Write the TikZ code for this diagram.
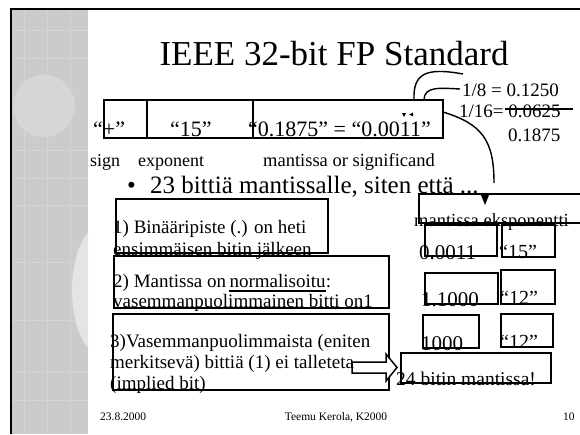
\documentclass[tikz,border=0pt]{standalone}
\usepackage{fontspec}
\setmainfont{Liberation Serif}
\definecolor{panel}{RGB}{203,203,203}
\definecolor{panelline}{RGB}{213,213,213}
\definecolor{circ}{RGB}{214,214,214}
\definecolor{ell}{RGB}{228,228,228}
\tikzset{
  fs/.style={inner sep=0pt, anchor=base west, font=\fontsize{#1}{#1}\selectfont},
  bx/.style={draw, line width=1.5pt, inner sep=0pt, anchor=north west},
  curve/.style={line width=1.4pt},
  tip/.style={fill=black, draw=none},
}
\begin{document}
\begin{tikzpicture}[x=1pt,y=-1pt]
\useasboundingbox (0,0) rectangle (580,434);
\clip (0,0) rectangle (580,434);
% left decorative panel
\fill[panel] (11,9) rectangle (88,434);
\foreach \yy in {30,58,150,178,205,262,320,372,400}{\draw[panelline,line width=0.8pt] (11,\yy) -- (88,\yy);}
\foreach \xx in {24,47,70}{\draw[panelline,line width=0.8pt] (\xx,9) -- (\xx,434);}
\fill[circ] (44,106) circle (31);
\begin{scope}
  \clip (11,9) rectangle (88,434);
  \fill[ell] (102,290) ellipse [x radius=30, y radius=65];
\end{scope}
\draw[line width=2pt] (11,434) -- (11,9);
\draw[line width=1.5pt] (10,9) -- (580,9);

% title
\node[fs=35, anchor=base] (title) at (334,65) {IEEE 32-bit FP Standard};

% main bit-field boxes
\node[bx, minimum width=43pt, minimum height=38pt] (sgn) at (103,99) {};
\node[bx, minimum width=106pt, minimum height=38pt] (exf) at (146,99) {};
\node[bx, minimum width=190pt, minimum height=38pt] (manf) at (252,99) {};
\node[fs=22] (tplus) at (93,136) {“+”};
\node[fs=22] (t15) at (170,136) {“15”};
\node[fs=22] (tman) at (248,136) {“0.1875” = “0.0011”};

% field labels
\node[fs=18] (lsign) at (90,166) {sign};
\node[fs=18] (lexp) at (138,166) {exponent};
\node[fs=18.5] (lman) at (263,166) {mantissa or significand};

% fractions
\node[fs=19] (f1) at (462,96) {1/8 = 0.1250};
\node[fs=19] (f2) at (459,117) {1/16= 0.0625};
\node[fs=19] (f3) at (508,141) {0.1875};
\coordinate (sumL) at (505,109);
\coordinate (sumR) at (573,109);
\draw[line width=1.4pt] (sumL) -- (sumR);

% curves
\coordinate (c1s) at (463,74);
\coordinate (c1e) at (414,100);
\coordinate (c2s) at (460,89);
\coordinate (c2e) at (424,100);
\coordinate (c3s) at (443,112);
\coordinate (c3e) at (494,183);
\draw[curve] (c1s) .. controls (425,67) and (413,74) .. (c1e);
\draw[curve] (c2s) .. controls (440,88) and (424,86) .. (c2e);
\draw[curve] (c3s) .. controls (482,124) and (494,140) .. (c3e);
\fill[tip] (402,113) -- (406,113) -- (404,117) -- cycle;
\fill[tip] (413,112.5) -- (413,116.5) -- (409,114.5) -- cycle;
\fill[tip] (481,195) -- (489,195) -- (485,205) -- cycle;

% bullet
\node[fs=25] (bul) at (127,193) {•};
\node[fs=25] (btxt) at (150,193) {23 bittiä mantissalle, siten että ...};

% left boxes
\node[bx, minimum width=212pt, minimum height=54pt] (b1) at (115,198) {};
\node[bx, minimum width=275pt, minimum height=52pt] (b2) at (113,255) {};
\node[bx, minimum width=276pt, minimum height=76pt] (b3) at (112,313) {};

% block arrow
\draw[line width=1.5pt, fill=white] (352,362) -- (386,362) -- (386,354) -- (397,367.5) -- (386,381) -- (386,373) -- (352,373) -- cycle;

\node[fs=19] (b1a) at (113,233) {1) Binääripiste (.) on heti};
\node[fs=19] (b1b) at (113,255) {ensimmäisen bitin jälkeen};
\node[fs=19] (b2a) at (113,287) {2) Mantissa on};
\node[fs=19] (b2b) at ([xshift=3pt]b2a.base east) {normalisoitu};
\node[fs=19] (b2c) at (b2b.base east) {:};
\draw[line width=1.5pt] ([yshift=-4pt]b2b.base west) -- ([yshift=-4pt]b2b.base east);
\node[fs=19] (b2d) at (113,307) {vasemmanpuolimmainen bitti on1};
\node[fs=19] (b3a) at (110,347) {3)Vasemmanpuolimmaista (eniten};
\node[fs=19] (b3b) at (110,368) {merkitsevä) bittiä (1) ei talleteta};
\node[fs=19] (b3c) at (110,389) {(implied bit)};

% right column
\node[bx, minimum width=180pt, minimum height=29pt] (mexp) at (418,193) {};
\node[fs=18.5] (tmexp) at (414,226) {mantissa eksponentti};
\node[bx, minimum width=72pt, minimum height=31pt] (r1a) at (424,224) {};
\node[bx, minimum width=53pt, minimum height=32pt] (r1b) at (501,224) {};
\node[bx, minimum width=73pt, minimum height=31pt] (r2a) at (424,272) {};
\node[bx, minimum width=54pt, minimum height=34pt] (r2b) at (500,269) {};
\node[bx, minimum width=56pt, minimum height=33pt] (r3a) at (422,314) {};
\node[bx, minimum width=52pt, minimum height=33pt] (r3b) at (500,313) {};
\node[bx, minimum width=150pt, minimum height=30pt] (r24) at (400,352) {};
\node[fs=21] (n1) at (419,259) {0.0011};
\node[fs=20] (e1) at (499,258) {“15”};
\node[fs=21] (n2) at (421,306) {1.1000};
\node[fs=20] (e2) at (500,304) {“12”};
\node[fs=21] (n3) at (421,350) {1000};
\node[fs=20] (e3) at (500,348) {“12”};
\node[fs=19.5] (t24) at (396,385) {24 bitin mantissa!};

% footer
\node[fs=11.5] (date) at (100,420) {23.8.2000};
\node[fs=11.5, anchor=base] (auth) at (336,420) {Teemu Kerola, K2000};
\node[fs=11.5] (pg) at (563,420) {10};
\end{tikzpicture}
\end{document}
